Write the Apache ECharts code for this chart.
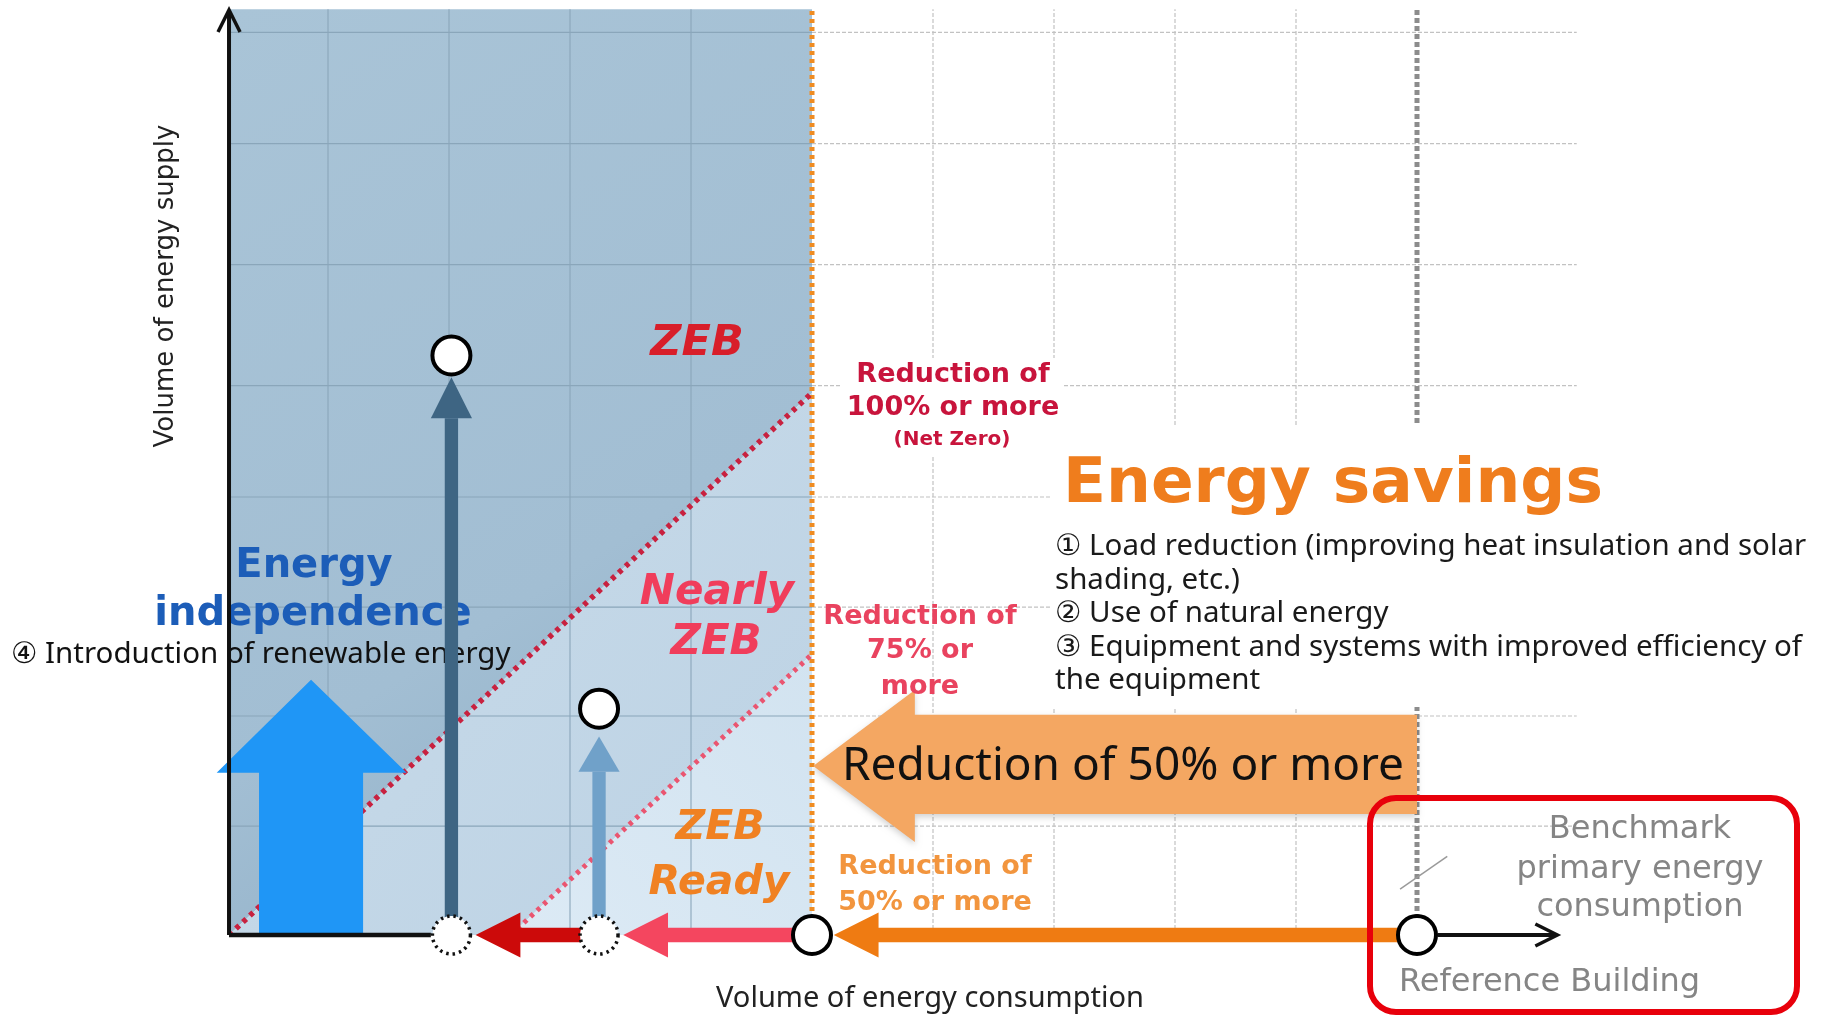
<!DOCTYPE html>
<html><head><meta charset="utf-8">
<script src="https://cdn.jsdelivr.net/npm/echarts@6/dist/echarts.min.js"></script>
<style>html,body{margin:0;padding:0;background:#fff}#c{width:1822px;height:1018px}</style>
</head><body><div id="c"></div>
<script>
// ---------- data (chart units: x = energy consumption, y = energy supply) ----------
const yAxisX = 1.82;
const topY = 76.5;
const xGridShaded = [10, 20, 30, 40];
const xGridOpen = [60, 70, 80, 90];
const yGridLines = [9.0, 18.1, 27.1, 36.2, 45.4, 55.4, 65.4, 74.6];
const gridEndX = 113.2;
const netZeroX = 50;
const referenceX = 100;
const zebBoundary = [[1.82, 0], [50, 44.8]];
const nearlyBoundary = [[25.1, 0], [50, 23.2]];
const xAxisSegment = [1.82, 18.5];
const yAxisTip = 76.45;
const benchmarkArrow = [101.7, 111.6];
const renewableArrow = { shaftL: 4.3, shaftR: 12.9, headL: 0.8, headR: 16.5, headBase: 13.4, tipX: 8.6, tipY: 21.1 };
const supplyArrows = [{ x: 20.2, headBase: 42.7, tip: 46.1 }, { x: 32.4, headBase: 13.5, tip: 16.4 }];
const supplyPoints = [[20.2, 47.9], [32.4, 18.7]];
const consumptionPoints = [[100, 0], [50, 0]];
const dashedPoints = [[32.4, 0], [20.2, 0]];
const reductionArrows = [
  { from: 98.4, headBase: 55.5, tip: 51.8 },
  { from: 48.4, headBase: 38.1, tip: 34.4 },
  { from: 30.9, headBase: 25.9, tip: 22.2 }
];
const savingsArrow = { tipX: 50.1, tipY: 13.97, headX: 58.5, headTop: 20.25, headBottom: 7.69, bodyTop: 18.2, bodyBottom: 10.0, tailX: 100 };
const leaderLine = [[98.6, 3.8], [102.5, 6.5]];

// ---------- styles ----------
const reductionColors = ['#ef7b12', '#f4465f', '#cc0a0a'];
const supplyColors = ['#3e6583', '#70a1c9'];

const chart = echarts.init(document.getElementById('c'), null, { renderer: 'canvas' });

function L(api, a, b, style) {
  const p1 = api.coord(a), p2 = api.coord(b);
  return { type: 'line', shape: { x1: p1[0], y1: p1[1], x2: p2[0], y2: p2[1] }, style };
}
function PG(api, pts, style) { return { type: 'polygon', shape: { points: pts.map(p => api.coord(p)) }, style }; }
function PL(api, pts, style) { return { type: 'polyline', shape: { points: pts.map(p => api.coord(p)) }, style }; }
function CI(api, p, style) { const q = api.coord(p); return { type: 'circle', shape: { cx: q[0], cy: q[1], r: 19 }, style }; }

function layer(z, draw) {
  return {
    type: 'custom', coordinateSystem: 'cartesian2d', z, silent: true, clip: false, animation: false,
    data: [[0, 0]],
    renderItem: (params, api) => ({ type: 'group', children: draw(api) })
  };
}

const G = echarts.graphic.LinearGradient;

const fills = layer(1, api => [
  PG(api, [zebBoundary[0], [yAxisX, topY], [netZeroX, topY], zebBoundary[1]],
    { fill: new G(0, 0, 1, 1, [{ offset: 0, color: '#a9c4d7' }, { offset: 0.6, color: '#a2bed3' }, { offset: 1, color: '#8aabc3' }]) }),
  PG(api, [zebBoundary[0], zebBoundary[1], nearlyBoundary[1], nearlyBoundary[0]],
    { fill: new G(0, 0, 1, 1, [{ offset: 0, color: '#cadcea' }, { offset: 1, color: '#bcd2e4' }]) }),
  PG(api, [nearlyBoundary[0], nearlyBoundary[1], [netZeroX, 0]],
    { fill: new G(0, 1, 1, 0, [{ offset: 0, color: '#dceaf5' }, { offset: 1, color: '#d2e3f0' }]) })
]);

const grid = layer(2, api => {
  const out = [];
  const sh = { stroke: '#8aa6ba', lineWidth: 1.1 };
  const op = { stroke: '#c2c2c2', lineWidth: 1.2, lineDash: [4, 2] };
  xGridShaded.forEach(x => out.push(L(api, [x, 0], [x, topY], sh)));
  yGridLines.forEach(y => out.push(L(api, [yAxisX, y], [netZeroX, y], sh)));
  xGridOpen.forEach(x => out.push(L(api, [x, 0], [x, topY], op)));
  yGridLines.forEach(y => out.push(L(api, [netZeroX, y], [gridEndX, y], op)));
  return out;
});

const dotted = layer(3, api => [
  L(api, [netZeroX, 0], [netZeroX, topY], { stroke: '#ef8c22', lineWidth: 5, lineDash: [4, 4] }),
  L(api, [referenceX, 0], [referenceX, topY], { stroke: '#8c8c8c', lineWidth: 5, lineDash: [5, 3] }),
  L(api, zebBoundary[0], zebBoundary[1], { stroke: '#c8213f', lineWidth: 5.5, lineDash: [4.5, 5] }),
  L(api, nearlyBoundary[0], nearlyBoundary[1], { stroke: '#ea5570', lineWidth: 5, lineDash: [4, 5] })
]);

const arrows = layer(5, api => {
  const out = [];
  const r = renewableArrow;
  out.push(PG(api, [[r.shaftL, 0], [r.shaftL, r.headBase], [r.headL, r.headBase], [r.tipX, r.tipY], [r.headR, r.headBase], [r.shaftR, r.headBase], [r.shaftR, 0]], { fill: '#1f96f6' }));
  const s = savingsArrow;
  out.push(PG(api, [[s.tipX, s.tipY], [s.headX, s.headTop], [s.headX, s.bodyTop], [s.tailX, s.bodyTop], [s.tailX, s.bodyBottom], [s.headX, s.bodyBottom], [s.headX, s.headBottom]],
    { fill: '#f4a762', shadowBlur: 6, shadowColor: 'rgba(0,0,0,0.18)', shadowOffsetY: 3 }));
  supplyArrows.forEach((a, i) => {
    out.push(PG(api, [[a.x - 0.55, 0], [a.x - 0.55, a.headBase], [a.x + 0.55, a.headBase], [a.x + 0.55, 0]], { fill: supplyColors[i] }));
    out.push(PG(api, [[a.x - 1.7, a.headBase], [a.x, a.tip], [a.x + 1.7, a.headBase]], { fill: supplyColors[i] }));
  });
  reductionArrows.forEach((a, i) => {
    out.push(PG(api, [[a.from, -0.6], [a.from, 0.6], [a.headBase, 0.6], [a.headBase, 1.85], [a.tip, 0], [a.headBase, -1.85], [a.headBase, -0.6]], { fill: reductionColors[i] }));
  });
  const ax = { stroke: '#111', lineWidth: 4.5, lineCap: 'butt' };
  out.push(L(api, [yAxisX, 0], [yAxisX, yAxisTip - 0.1], { stroke: '#111', lineWidth: 4 }));
  out.push(PL(api, [[yAxisX - 0.91, yAxisTip - 1.82], [yAxisX, yAxisTip], [yAxisX + 0.91, yAxisTip - 1.82]], { stroke: '#111', lineWidth: 3.5, fill: null }));
  out.push(L(api, [xAxisSegment[0], 0], [xAxisSegment[1], 0], ax));
  out.push(L(api, [benchmarkArrow[0], 0], [benchmarkArrow[1] - 0.1, 0], { stroke: '#111', lineWidth: 4 }));
  out.push(PL(api, [[benchmarkArrow[1] - 1.82, 0.91], [benchmarkArrow[1], 0], [benchmarkArrow[1] - 1.82, -0.91]], { stroke: '#111', lineWidth: 3.5, fill: null }));
  return out;
});

const points = layer(6, api => {
  const out = [];
  consumptionPoints.concat(supplyPoints).forEach(p => out.push(CI(api, p, { fill: '#fff', stroke: '#000', lineWidth: 4 })));
  dashedPoints.forEach(p => out.push(CI(api, p, { fill: '#fff', stroke: '#111', lineWidth: 3.5, lineDash: [2.5, 4] })));
  out.push(L(api, leaderLine[0], leaderLine[1], { stroke: '#9a9a9a', lineWidth: 1.5 }));
  return out;
});

function T(text, x, y, font, fill, opts) {
  opts = opts || {};
  const align = opts.align || 'center', va = opts.va || 'middle';
  const el = {
    type: 'text', x, y, z: opts.z || 10, silent: true,
    style: { text, font, fill, align, textAlign: align, verticalAlign: va, textVerticalAlign: va, lineHeight: opts.lh }
  };
  if (opts.rotation) el.rotation = opts.rotation;
  return el;
}
const DJ = "'DejaVu Sans', Verdana, sans-serif";
const NS = "'Noto Sans', 'DejaVu Sans', sans-serif";

const graphics = [
  { type: 'rect', z: 4, silent: true, shape: { x: 1050, y: 425, width: 772, height: 282 }, style: { fill: '#fff' } },
  { type: 'rect', z: 4, silent: true, shape: { x: 842, y: 358, width: 222, height: 97 }, style: { fill: '#fff' } },
  T('Volume of energy supply', 166, 286, "26px " + DJ, '#222', { rotation: Math.PI / 2 }),
  T('Volume of energy consumption', 930, 999, "29px " + NS, '#222'),
  T('ZEB', 697, 344, "italic bold 43px " + DJ, '#d81e2a'),
  T('Reduction of', 953, 375, "bold 27px " + DJ, '#c8143c'),
  T('100% or more', 953, 408, "bold 27px " + DJ, '#c8143c'),
  T('(Net Zero)', 952, 440, "bold 20px " + DJ, '#c8143c'),
  T('Energy savings', 1063, 486, "bold 63px " + DJ, '#ef7d1d', { align: 'left' }),
  T('① Load reduction (improving heat insulation and solar\nshading, etc.)\n② Use of natural energy\n③ Equipment and systems with improved efficiency of\nthe equipment',
    1055, 530, "29.5px " + NS, '#1a1a1a', { align: 'left', va: 'top', lh: 33.5 }),
  T('Reduction of 50% or more', 1123, 767, "46px " + NS, '#111'),
  T('Energy', 314, 567, "bold 40px " + DJ, '#1c5db8', { z: 4.5 }),
  T('independence', 313, 615, "bold 40px " + DJ, '#1c5db8', { z: 4.5 }),
  T('④ Introduction of renewable energy', 11, 655, "29.5px " + NS, '#111', { align: 'left', z: 4.5 }),
  T('Nearly', 717, 593, "italic bold 42px " + DJ, '#f03d5b'),
  T('ZEB', 716, 643, "italic bold 42px " + DJ, '#f03d5b'),
  T('Reduction of', 920, 617, "bold 27px " + DJ, '#e9435f'),
  T('75% or', 920, 651, "bold 27px " + DJ, '#e9435f'),
  T('more', 920, 687, "bold 27px " + DJ, '#e9435f'),
  T('ZEB', 720, 828, "italic bold 41px " + DJ, '#f08122'),
  T('Ready', 719, 883, "italic bold 41px " + DJ, '#f08122'),
  T('Reduction of', 935, 867, "bold 27px " + DJ, '#f2953e'),
  T('50% or more', 935, 903, "bold 27px " + DJ, '#f2953e'),
  T('Benchmark', 1640, 830, "32px " + DJ, '#858585'),
  T('primary energy', 1640, 870, "32px " + DJ, '#858585'),
  T('consumption', 1640, 908, "32px " + DJ, '#858585'),
  T('Reference Building', 1399, 983, "32px " + DJ, '#858585', { align: 'left' }),
  { type: 'rect', z: 10, silent: true, shape: { x: 1370, y: 798, width: 427, height: 214, r: 26 }, style: { fill: 'rgba(0,0,0,0)', stroke: '#e8000b', lineWidth: 6 } }
];

chart.setOption({
  animation: false,
  backgroundColor: '#fff',
  grid: { left: 207, top: 935 - 12.1 * 77, width: 12.1 * 132, height: 12.1 * 77 },
  xAxis: { type: 'value', min: 0, max: 132, show: false },
  yAxis: { type: 'value', min: 0, max: 77, show: false },
  series: [fills, grid, dotted, arrows, points],
  graphic: graphics
});
</script>
</body></html>
